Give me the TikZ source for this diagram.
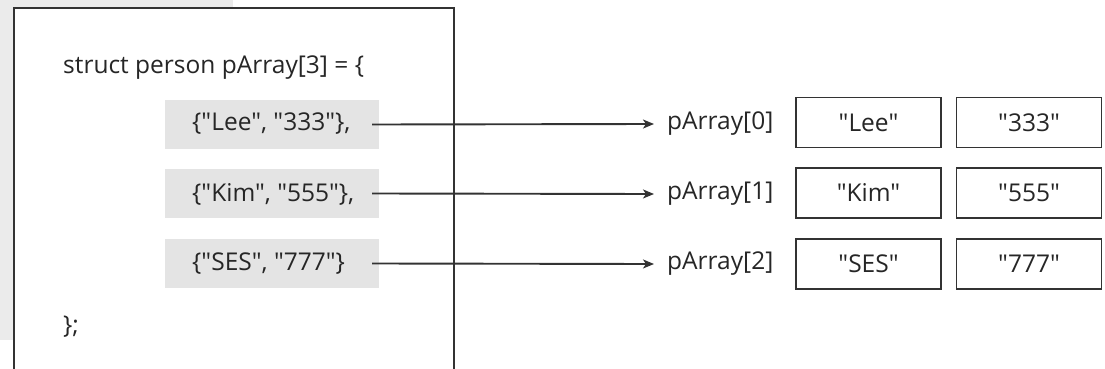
\documentclass[tikz,border=0pt]{standalone}
\usepackage{fontspec}
\setmainfont{Open Sans}[Ligatures=TeXOff]
\usetikzlibrary{arrows.meta}
\definecolor{bggray}{HTML}{EBEBEB}
\definecolor{codegray}{HTML}{E4E4E4}
\definecolor{ink}{HTML}{262626}
\definecolor{edge}{HTML}{333333}
\tikzset{
  txt/.style={inner sep=0pt, text=ink, font=\fontsize{24.5}{28}\selectfont},
  codebox/.style={fill=codegray, minimum width=214pt, minimum height=49pt, inner sep=0pt},
  cell/.style={draw=edge, line width=1.9pt, minimum width=145pt, minimum height=50pt, inner sep=0pt, text=ink, font=\fontsize{24.5}{28}\selectfont},
  link/.style={draw=edge, line width=1.9pt, -{Stealth[length=11pt,width=9pt,inset=3pt]}}
}
\begin{document}
\begin{tikzpicture}[x=1pt,y=-1pt]
\useasboundingbox (0,0) rectangle (1105,369);
\fill[bggray] (0,0) rectangle (233,340);
\fill[white] (14,8) rectangle (454,369);
\draw[edge, line width=2.2pt] (14,369) -- (14,8) -- (454,8) -- (454,369);
\node[txt, anchor=base west] (head) at (63,74) {struct person pArray[3] = \{};
\node[txt, anchor=base west] (tail) at (63,333) {\};};
\node[codebox] (g0) at (272,124.5) {};
\node[codebox] (g1) at (272,193.5) {};
\node[codebox] (g2) at (272,263.5) {};
\node[txt, anchor=west] (c0) at (192,124) {\{"Lee", "333"\},};
\node[txt, anchor=west] (c1) at (192,194) {\{"Kim", "555"\},};
\node[txt, anchor=west] (c2) at (192,264) {\{"SES", "777"\}};
\node[txt, anchor=west] (p0) at (667,124) {pArray[0]};
\node[txt, anchor=west] (p1) at (667,194) {pArray[1]};
\node[txt, anchor=west] (p2) at (667,264) {pArray[2]};
\node[cell] (n0) at (868.5,122.5) {"Lee"};
\node[cell] (v0) at (1029,122.5) {"333"};
\node[cell] (n1) at (868.5,193) {"Kim"};
\node[cell] (v1) at (1029,193) {"555"};
\node[cell] (n2) at (868.5,264) {"SES"};
\node[cell] (v2) at (1029,264) {"777"};
\draw[link] ([xshift=-7pt]g0.east) -- ([xshift=-13pt]p0.west);
\draw[link] ([xshift=-7pt]g1.east) -- ([xshift=-13pt]p1.west);
\draw[link] ([xshift=-7pt]g2.east) -- ([xshift=-13pt]p2.west);
\end{tikzpicture}
\end{document}
